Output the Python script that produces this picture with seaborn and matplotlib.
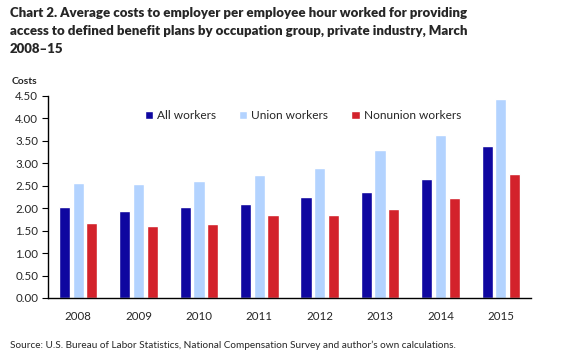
import matplotlib
matplotlib.use("Agg")
import matplotlib.pyplot as plt
import seaborn as sns
import pandas as pd
from matplotlib.ticker import FormatStrFormatter

years = ["2008", "2009", "2010", "2011", "2012", "2013", "2014", "2015"]
all_workers = [2.03, 1.94, 2.03, 2.10, 2.26, 2.37, 2.64, 3.39]
union_workers = [2.57, 2.55, 2.61, 2.75, 2.90, 3.30, 3.64, 4.44]
nonunion_workers = [1.68, 1.61, 1.65, 1.86, 1.86, 1.99, 2.23, 2.77]
series_names = ["All workers", "Union workers", "Nonunion workers"]
colors = ["#0F07A0", "#B3D3FF", "#D3222B"]

rows = []
for name, vals in zip(series_names, [all_workers, union_workers, nonunion_workers]):
    for y, v in zip(years, vals):
        rows.append({"year": y, "series": name, "value": v})
df = pd.DataFrame(rows)

sns.set_style("white")
plt.rcParams['font.family'] = ['Lato', 'DejaVu Sans']

fig = plt.figure(figsize=(5.82, 3.58), dpi=100)
ax = fig.add_axes([48/582, 60/358, 483/582, 202/358])
sns.barplot(data=df, x="year", y="value", hue="series", palette=colors,
            width=0.68, gap=0.18, ax=ax, saturation=1)
ax.set_ylim(0, 4.5)
ax.set_xlim(-0.5, 7.5)
ax.set_yticks([i * 0.5 for i in range(10)])
ax.yaxis.set_major_formatter(FormatStrFormatter("%.2f"))
ax.set_xlabel("")
ax.set_ylabel("")
for s in ["top", "right"]:
    ax.spines[s].set_visible(False)
for s in ["left", "bottom"]:
    ax.spines[s].set_color("black")
    ax.spines[s].set_linewidth(1)
ax.tick_params(axis="y", left=True, length=4, width=0.8, labelsize=8.3, color="black", pad=3)
ax.tick_params(axis="x", bottom=False, labelsize=8.3, pad=6)

leg = ax.legend(loc="upper left", bbox_to_anchor=(0.19, 0.955), ncol=3, frameon=False,
                fontsize=8.6, handlelength=0.7, handleheight=0.7, handletextpad=0.35,
                columnspacing=1.9, borderaxespad=0)

fig.text(10/582, 1 - 7/358, "Chart 2. Average costs to employer per employee hour worked for providing\n"
         "access to defined benefit plans by occupation group, private industry, March\n2008\u201315",
         ha="left", va="top", fontsize=9.5, fontweight="heavy", linespacing=1.6)
fig.text(12/582, 1 - 81/358, "Costs", ha="left", va="center", fontsize=7.5, fontweight="bold")
fig.text(10/582, 1 - 345/358,
         "Source: U.S. Bureau of Labor Statistics, National Compensation Survey and author\u2019s own calculations.",
         ha="left", va="center", fontsize=7.2)

fig.savefig("out.png", dpi=100)
